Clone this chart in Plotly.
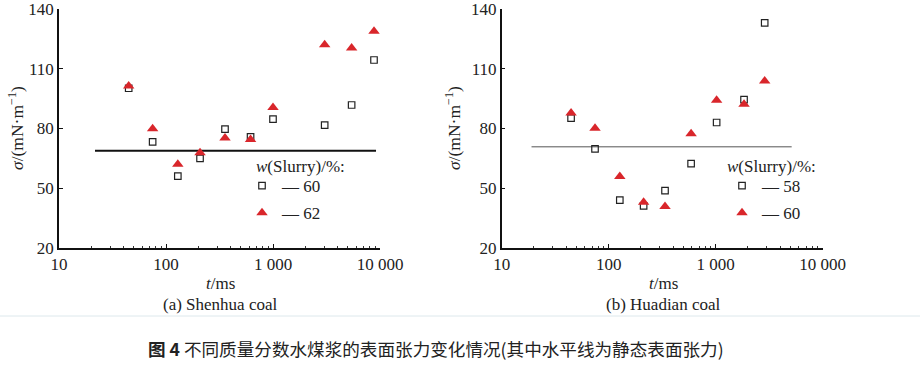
import plotly.graph_objects as go

# ---------------- data ----------------
t_a = [44.8, 75, 129, 208, 356, 617, 1000, 3040, 5430, 8790]
sigma_a60 = [100.2, 73.3, 56.1, 65.0, 79.7, 75.8, 84.7, 81.7, 91.8, 114.4]
sigma_a62 = [101.3, 79.9, 62.0, 67.8, 75.2, 74.5, 90.6, 122.1, 120.4, 128.8]
static_a_t = [21.7, 9180]
static_a = [68.8, 68.8]

t_b = [44.5, 74.5, 127, 212, 336, 589, 1020, 1840, 2870]
sigma_b58 = [85.2, 69.8, 44.0, 41.2, 48.8, 62.4, 83.0, 94.5, 133.0]
sigma_b60 = [87.8, 80.1, 55.9, 43.0, 40.8, 77.4, 94.2, 92.2, 103.9]
static_b_t = [19, 5130]
static_b = [70.8, 70.8]

x_tickvals = [10, 100, 1000, 10000]
x_ticktext = ["10", "100", "1 000", "10 000"]
x_minor = [m * d for d in (10, 100, 1000) for m in range(2, 10)]
y_tickvals = [20, 50, 80, 110, 140]

SERIF = "Liberation Serif"
RED = "#d9262b"
W, H = 920, 365
OFF = 0  # page body margin removed via post_script

fig = go.Figure()

def add_panel(xa, ya, t, s_sq, s_tri, n_sq, n_tri, st_t, st_v, line_col, line_w, leg):
    fig.add_trace(go.Scatter(x=st_t, y=st_v, mode="lines", xaxis=xa, yaxis=ya,
                             line=dict(color=line_col, width=line_w), showlegend=False,
                             hoverinfo="skip"))
    fig.add_trace(go.Scatter(x=t, y=s_sq, mode="markers", xaxis=xa, yaxis=ya,
                             name="— " + n_sq, legend=leg, legendgroup=leg + "sq",
                             marker=dict(symbol="square-open", size=6.5,
                                         color="#222222", line=dict(width=1.2))))
    fig.add_trace(go.Scatter(x=t, y=s_tri, mode="markers", xaxis=xa, yaxis=ya,
                             name="— " + n_tri, legend=leg, legendgroup=leg + "tri",
                             marker=dict(symbol="triangle-up", size=10, color=RED)))

add_panel("x", "y", t_a, sigma_a60, sigma_a62, "60", "62", static_a_t, static_a, "#111111", 2, "legend")
add_panel("x2", "y2", t_b, sigma_b58, sigma_b60, "58", "60", static_b_t, static_b, "#555555", 1, "legend2")

def px_x(p):
    return (p - OFF) / W

def px_y(p):
    return 1 - (p - OFF) / H

ydom = [px_y(248), px_y(9)]
xaxis_common = dict(type="log", range=[1, 4], tickvals=x_tickvals, ticktext=x_ticktext,
                    ticks="inside", ticklen=4, tickwidth=1, tickcolor="#111",
                    showline=True, linecolor="#111", linewidth=1.5, showgrid=False,
                    zeroline=False, tickfont=dict(family=SERIF, size=17, color="#222"),
                    ticklabeloverflow="allow",
                    minor=dict(tickmode="array", tickvals=x_minor, ticks="inside",
                               ticklen=2.5, tickcolor="#333", showgrid=False))
yaxis_common = dict(range=[20, 140], tickvals=y_tickvals, ticks="inside", ticklen=4,
                    tickcolor="#111", showline=True, linecolor="#111", linewidth=1.5,
                    showgrid=False, zeroline=False, ticklabeloverflow="allow",
                    tickfont=dict(family=SERIF, size=17, color="#222"))

legend_common = dict(font=dict(family=SERIF, size=17, color="#222"),
                     bgcolor="rgba(0,0,0,0)", xanchor="left", yanchor="top",
                     itemwidth=30, tracegroupgap=2)

fig.update_layout(
    width=W, height=H, margin=dict(l=0, r=0, t=0, b=0, autoexpand=False),
    paper_bgcolor="white", plot_bgcolor="white",
    xaxis=dict(domain=[px_x(59), px_x(380)], anchor="y", **xaxis_common),
    yaxis=dict(domain=ydom, anchor="x", **yaxis_common),
    xaxis2=dict(domain=[px_x(501.7), px_x(822.7)], anchor="y2", **xaxis_common),
    yaxis2=dict(domain=ydom, anchor="x2", **yaxis_common),
    legend=dict(x=px_x(242), y=px_y(168), **legend_common),
    legend2=dict(x=px_x(722), y=px_y(168), **legend_common),
)

ann_font = dict(family=SERIF, size=17, color="#222")

def ann(x, y, text, font=ann_font, xanchor="center", **kw):
    fig.add_annotation(x=px_x(x), y=px_y(y), xref="paper", yref="paper", text=text,
                       showarrow=False, font=font, xanchor=xanchor, yanchor="middle", **kw)

for cx, ylab_x, sub, leg_x in [(220, 16, "(a) Shenhua coal", 254), (663, 453, "(b) Huadian coal", 725)]:
    ann(cx, 283, "<i>t</i>/ms")
    ann(cx, 304, sub)
    ann(ylab_x, 128, "<i>σ</i>/(mN·m<sup>−1</sup>)", textangle=-90,
        font=dict(family=SERIF, size=17.5, color="#222"))
    ann(leg_x, 166, "<i>w</i>(Slurry)/%:", xanchor="left")

fig.add_shape(type="line", xref="paper", yref="paper", x0=0, x1=1,
              y0=px_y(316), y1=px_y(316), line=dict(color="#dde8ec", width=1))

ann(436, 348, "<b>图 4</b> 不同质量分数水煤浆的表面张力变化情况(其中水平线为静态表面张力)",
    font=dict(family="Noto Sans CJK SC", size=17.6, color="#222"))

fig.write_html("out.html", config={"displayModeBar": False},
               post_script="document.body.style.margin='0';document.body.style.overflow='hidden';")
